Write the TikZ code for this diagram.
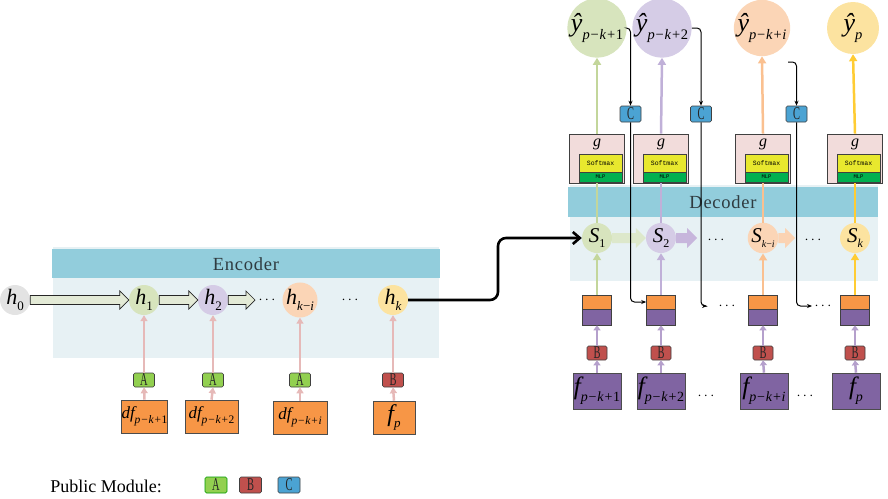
\documentclass[tikz,border=0pt]{standalone}
\usepackage{fontspec}
\setmainfont{Liberation Serif}
\setmonofont{Liberation Mono}
\usepackage{graphicx}
\usetikzlibrary{calc,arrows.meta}
\definecolor{encbar}{HTML}{92CDDC}
\definecolor{enclight}{HTML}{E7F1F4}
\definecolor{cgray}{HTML}{E3E3E3}
\definecolor{cgreen}{HTML}{D7E4BD}
\definecolor{clav}{HTML}{D5CCE6}
\definecolor{cpeach}{HTML}{FBD5B6}
\definecolor{cyell}{HTML}{FCE3A0}
\definecolor{lgreen}{HTML}{C3D69B}
\definecolor{llav}{HTML}{C0B0D8}
\definecolor{lpeach}{HTML}{FAC090}
\definecolor{lyell}{HTML}{FFCC33}
\definecolor{pinkarr}{HTML}{E6B9B8}
\definecolor{purarr}{HTML}{B5A0CC}
\definecolor{orangebox}{HTML}{F79646}
\definecolor{purplebox}{HTML}{8064A2}
\definecolor{gpink}{HTML}{F2DCDB}
\definecolor{softy}{HTML}{E8E82E}
\definecolor{mlpg}{HTML}{00B050}
\definecolor{mA}{HTML}{92D050}
\definecolor{mB}{HTML}{C0504D}
\definecolor{mC}{HTML}{4BA3D3}
\definecolor{hollowfill}{HTML}{E3EAD6}
\definecolor{hgreen}{HTML}{DDE8CB}
\definecolor{hlav}{HTML}{C7B6DC}
\definecolor{hpeach}{HTML}{FBD3B3}
\definecolor{bartxt}{HTML}{2F3B40}
\newcommand{\modlet}[1]{\scalebox{0.58}[1]{\fontsize{18}{18}\selectfont #1}}
% label with italic main symbol and lowered subscript
\newcommand{\lab}[4]{\mbox{\fontsize{#1}{#1}\selectfont\itshape #3}\raisebox{-0.27\dimexpr #1pt\relax}{\fontsize{#2}{#2}\selectfont #4}}
\newcommand{\pk}[1]{\textit{p}\kern0.8pt−\kern0.8pt\textit{k}\kern0.8pt+\kern0.6pt#1}
\newcommand{\harrow}[6]{%
  \path[#1] ($(#2)+(0,-#4)$) -- ($(#3)+(-#6,-#4)$) -- ($(#3)+(-#6,-#5)$) -- (#3)
    -- ($(#3)+(-#6,#5)$) -- ($(#3)+(-#6,#4)$) -- ($(#2)+(0,#4)$) -- cycle;}
\begin{document}
\begin{tikzpicture}[x=1pt,y=-1pt,
  circ/.style={circle, inner sep=0pt, minimum size=30pt},
  ycirc/.style={circle, inner sep=0pt, minimum size=52pt},
  modbox/.style={draw=black!75, rounded corners=1.5pt, minimum width=21pt, minimum height=14pt, inner sep=0pt, line width=0.6pt, text=black!85},
  dfbox/.style={draw=black!70, fill=orangebox, line width=0.6pt, minimum height=33pt, inner sep=0pt},
  fbox/.style={draw=black!70, fill=purplebox, line width=0.6pt, minimum width=48pt, minimum height=36pt, inner sep=0pt},
  stacko/.style={draw=black!75, fill=orangebox, line width=0.6pt, minimum width=29pt, minimum height=14pt, inner sep=0pt},
  stackp/.style={draw=black!75, fill=purplebox, line width=0.6pt, minimum width=29pt, minimum height=16pt, inner sep=0pt},
  gbox/.style={draw=black!75, fill=gpink, line width=0.6pt, minimum width=55pt, minimum height=49pt, inner sep=0pt},
  softbox/.style={draw=black!75, fill=softy, line width=0.4pt, minimum width=43pt, minimum height=18pt, inner sep=0pt, font=\ttfamily\fontsize{6.5}{7}\selectfont},
  mlpbox/.style={draw=black!75, fill=mlpg, line width=0.4pt, minimum width=43pt, minimum height=10pt, inner sep=0pt, font=\ttfamily\fontsize{5.5}{6}\selectfont},
  bartext/.style={text=bartxt, font=\fontsize{18.5}{18.5}\selectfont\addfontfeatures{LetterSpace=4}},
  dots/.style={inner sep=0pt, font=\fontsize{14}{14}\selectfont},
  encarr/.style={draw=pinkarr, line width=2.5pt, -{Triangle[length=6pt,width=7pt]}},
  colarr/.style={draw=#1, line width=2.5pt, -{Triangle[length=7pt,width=8pt]}},
  colline/.style={draw=#1, line width=2.5pt},
  purarrow/.style={draw=purarr, line width=2.5pt, -{Triangle[length=5pt,width=7pt]}},
  fb/.style={draw=black, line width=1pt, rounded corners=4pt, -{Stealth[length=5pt,width=4pt]}},
  hollowenc/.style={fill=hollowfill, draw=black!85, line width=0.7pt},
]
\useasboundingbox (0,0) rectangle (888,498);
% ---------- backgrounds
\fill[enclight] (53,247) rectangle (439,358);
\fill[encbar] (52,249) rectangle (440,278);
\node[bartext] (enct) at (246,264) {Encoder};
\fill[enclight] (570,185) rectangle (878,281);
\fill[encbar] (568,187) rectangle (878,217);
\node[bartext] (dect) at (723,202) {Decoder};
% ---------- encoder
\node[circ, fill=cgray] (h0) at (15,300) {\lab{22}{13}{h}{0}};
\node[circ, fill=cgreen] (h1) at (144,300) {\lab{22}{13}{h}{1}};
\node[circ, fill=clav] (h2) at (213,300) {\lab{22}{13}{h}{2}};
\node[circ, fill=cpeach] (hki) at (300,300) {\lab{22}{13}{h}{\textit{k}−\textit{i}}};
\node[circ, fill=cyell] (hk) at (393,300) {\lab{22}{13}{h}{\textit{k}}};
\coordinate (e1) at (255,300);
\node[dots] (d1) at (267,300) {$\cdots$};
\node[dots] (d2) at (350,300) {$\cdots$};
\harrow{hollowenc}{h0.east}{h1.west}{4.5}{9}{9}
\harrow{hollowenc}{h1.east}{h2.west}{4.5}{9}{9}
\harrow{hollowenc}{h2.east}{e1}{4.5}{9}{9}
\node[modbox, fill=mA] (a1) at (144,380) {\modlet{A}};
\node[modbox, fill=mA] (a2) at (213,380) {\modlet{A}};
\node[modbox, fill=mA] (a3) at (300,380) {\modlet{A}};
\node[modbox, fill=mB] (a4) at (393,380) {\modlet{B}};
\node[dfbox, minimum width=45pt] (df1) at (144.5,416.5) {\lab{17}{11.5}{df}{\pk{1}}};
\node[dfbox, minimum width=53pt] (df2) at (211.5,416.5) {\lab{17}{11.5}{df}{\pk{2}}};
\node[dfbox, minimum width=54pt] (df3) at (300,417.5) {\lab{17}{11.5}{df}{\pk{\textit{i}}}};
\node[dfbox, minimum width=42pt] (df4) at (394,417.5) {\lab{24}{13}{f}{\textit{p}}};
\foreach \i/\h in {1/h1,2/h2,3/hki,4/hk}{
  \draw[encarr] (df\i.north) -- (a\i.south);
  \draw[encarr] (a\i.north) -- (\h.south);
}
% ---------- decoder
\node[circ, fill=cgreen] (S1) at (597,238) {\lab{21}{12}{S}{1}};
\node[circ, fill=clav] (S2) at (661,238) {\lab{21}{12}{S}{2}};
\node[circ, fill=cpeach] (S3) at (763,238) {\lab{21}{10}{S}{\textit{k}−\textit{i}}};
\node[circ, fill=cyell] (S4) at (855,238) {\lab{21}{12}{S}{\textit{k}}};
\coordinate (e2) at (697,238);
\coordinate (e3) at (795,238);
\node[dots] (sr1) at (716,240) {$\cdots$};
\node[dots] (sr2) at (813,240) {$\cdots$};
\harrow{fill=hgreen}{S1.east}{S2.west}{5}{10}{10}
\harrow{fill=hlav}{S2.east}{e2}{5}{10}{10}
\harrow{fill=hpeach}{S3.east}{e3}{5}{10}{10}
% black link encoder -> decoder
\draw[line width=2.6pt, rounded corners=8pt, -{Straight Barb[length=7pt,width=12pt]}] (hk.east) -- (498,300) |- (S1.west);
% output circles
\node[ycirc, fill=cgreen] (y1) at (597,28) {\lab{26}{14.5}{ŷ}{\pk{1}}};
\node[ycirc, fill=clav] (y2) at (662,28) {\lab{26}{14.5}{ŷ}{\pk{2}}};
\node[ycirc, fill=cpeach] (y3) at (762,28) {\lab{26}{14.5}{ŷ}{\pk{\textit{i}}}};
\node[ycirc, fill=cyell] (y4) at (853,28) {\lab{26}{14.5}{ŷ}{\textit{p}}};
% g boxes
\foreach \i/\x in {1/597,2/661,3/763,4/855}{
  \node[gbox] (g\i) at (\x,158.5) {};
  \node[font=\fontsize{16}{16}\selectfont\itshape, inner sep=0pt] (gl\i) at (\x,144) {g};
  \node[softbox] (sm\i) at (\x+3.5,163) {Softmax};
  \node[mlpbox] (ml\i) at (\x+3.5,177) {MLP};
  \node[stacko] (o\i) at (\x,302) {};
  \node[stackp] (q\i) at (\x,317) {};
  \node[modbox, fill=mB, minimum width=20pt] (b\i) at (\x,353) {\modlet{B}};
}
\node[fbox] (f1) at (597,391) {\lab{25}{14}{f}{\pk{1}}};
\node[fbox] (f2) at (661,391) {\lab{25}{14}{f}{\pk{2}}};
\node[fbox] (f3) at (764,391) {\lab{25}{14}{f}{\pk{\textit{i}}}};
\node[fbox] (f4) at (856,391) {\lab{25}{14}{f}{\textit{p}}};
\node[dots] (fd1) at (706,396) {$\cdots$};
\node[dots] (fd2) at (805,396) {$\cdots$};
\node[dots] (sd1) at (727,306) {$\cdots$};
\node[dots] (sd2) at (823,306) {$\cdots$};
% column lines
\foreach \i/\c in {1/lgreen,2/llav,3/lpeach,4/lyell}{
  \draw[colline=\c] (S\i.north) -- (g\i.south);
  \draw[colarr=\c] (g\i.north) -- (y\i.south);
  \draw[colarr=\c] (o\i.north) -- (S\i.south);
  \draw[purarrow] (f\i.north) -- (b\i.south);
  \draw[purarrow] (b\i.north) -- (q\i.south);
}
% C modules and feedback
\node[modbox, fill=mC, minimum height=16pt] (c1) at (630.5,114) {\modlet{C}};
\node[modbox, fill=mC, minimum height=16pt] (c2) at (701,114) {\modlet{C}};
\node[modbox, fill=mC, minimum height=16pt] (c3) at (796.5,114) {\modlet{C}};
\coordinate (s3) at (788,62);
\coordinate (t2) at (707,306);
\coordinate (t3) at (812,306);
\draw[fb] (y1.east) -| (c1.north);
\draw[fb] (c1.south) |- (o2.west);
\draw[fb] (y2.east) -| (c2.north);
\draw[fb] (c2.south) |- (t2);
\draw[fb] (s3) -| (c3.north);
\draw[fb] (c3.south) |- (t3);
% ---------- legend
\node[font=\fontsize{18}{18}\selectfont, inner sep=0pt] (leg) at (106,486) {Public Module:};
\node[modbox, fill=mA, draw=green!60!black, minimum width=22pt, minimum height=16pt] (lA) at (216,485) {\modlet{A}};
\node[modbox, fill=mB, minimum width=22pt, minimum height=16pt] (lB) at (250.5,485) {\modlet{B}};
\node[modbox, fill=mC, minimum width=22pt, minimum height=16pt] (lC) at (289,485) {\modlet{C}};
\end{tikzpicture}
\end{document}
